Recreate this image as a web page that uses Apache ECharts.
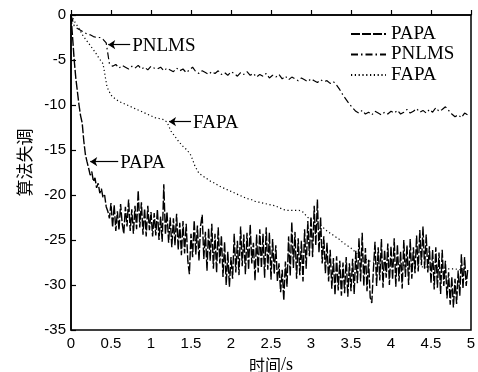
<!DOCTYPE html>
<html>
<head>
<meta charset="utf-8">
<script src="https://cdn.jsdelivr.net/npm/echarts@6/dist/echarts.min.js"></script>
<style>
html,body{margin:0;padding:0;background:#fff;}
#main{width:478px;height:372px;}
</style>
</head>
<body>
<div id="main"></div>
<script>
// time step (s) of each series
var papaStep = 0.02;
var pnlmsStep = 0.04;
var fapaStep = 0.05;

var seriesNames = ['PAPA', 'PNLMS', 'FAPA'];
var xTicks = [0, 0.5, 1, 1.5, 2, 2.5, 3, 3.5, 4, 4.5, 5];
var yTicks = [0, -5, -10, -15, -20, -25, -30, -35];

var papa = [
  0, -2.5, -5, -7, -8.5, -10, -11.2, -12, -14, -15.5,
  -16.3, -17, -17.8, -17.4, -18.5, -18.1, -19.2, -18.7, -19.8, -19.3,
  -20.3, -20, -21.3, -21.8, -22.6, -20.9, -23.6, -21.1, -24, -21.8,
  -23.9, -21, -23.2, -24.3, -21.3, -23.5, -20.5, -24, -21.6, -24.3,
  -21.2, -23.8, -19.5, -23.6, -20.8, -24.4, -21.5, -24.6, -21.2, -23.9,
  -21.9, -24.6, -22, -24.5, -21.6, -25, -22.4, -25.2, -18.8, -24.4,
  -21.9, -25.3, -22.5, -25.8, -22.6, -25.6, -22.1, -26.1, -23.1, -26.7,
  -22.9, -26.5, -23.2, -27.3, -28.8, -24.3, -26.9, -22.8, -26.6, -23.4,
  -27.3, -23.4, -22.2, -27.1, -24.1, -28.4, -23.7, -27.3, -23.2, -28.2,
  -24.3, -28.6, -23.6, -27.6, -24.5, -29.1, -25.2, -30, -26.3, -30.2,
  -26.9, -29.3, -24.3, -28.6, -25.1, -28.9, -23.5, -27.9, -24.4, -28.8,
  -24.2, -28.3, -23.3, -27.6, -25.3, -29.5, -24.4, -28.6, -23.8, -28.1,
  -24.3, -29.2, -23.6, -28.3, -24.2, -29.4, -24.9, -28.8, -25.6, -29.6,
  -27.6, -30.8, -28.3, -31.7, -27.4, -30.2, -24.6, -29, -23, -28.1,
  -24.1, -29.3, -24.8, -28.9, -25.1, -29.6, -23.8, -28.2, -22.9, -26.8,
  -22.4, -26.9, -21.2, -25.6, -20.5, -26.4, -22.5, -27.6, -24.6, -28.7,
  -25.3, -29.6, -26.1, -30.4, -27, -31.1, -26.8, -30.6, -27.3, -31.2,
  -27.5, -30.9, -26.9, -31.3, -27.6, -30.7, -27.1, -31, -26.2, -29.8,
  -24.8, -29.6, -24.2, -30.1, -25.9, -30.7, -27.2, -31.4, -32, -28.3,
  -25.2, -30.1, -25.8, -29.5, -24.9, -30.3, -26.1, -29.2, -25.4, -30,
  -25.7, -29.4, -24.8, -30.2, -25.5, -29.6, -26.3, -30.4, -25, -29.1,
  -25.6, -30, -24.9, -29.3, -25.8, -28.7, -24.5, -28.5, -23.9, -27.8,
  -23.5, -28.2, -24.4, -28.6, -25.7, -29.8, -26.1, -30.5, -25.8, -30.3,
  -26.4, -31, -26.1, -30.1, -27.3, -31.5, -28.6, -32.2, -29.1, -32.5,
  -29.3, -32.1, -28.4, -31.2, -26.6, -30.4, -26.9, -30.1, -28.2
];

var pnlms = [
  0, -1.2, -1.5, -1.7, -1.9, -2.1, -2.2, -2.4, -2.5, -2.5,
  -2.7, -3.1, -5.4, -5.7, -5.5, -5.9, -5.6, -5.8, -6.0, -5.7,
  -5.9, -5.6, -6.0, -5.8, -6.1, -5.7, -5.9, -6.0, -5.8, -6.2,
  -5.9, -6.1, -6.3, -5.9, -6.2, -6.0, -6.4, -6.1, -5.8, -6.3,
  -6.5, -6.2, -6.4, -6.6, -6.3, -6.5, -6.2, -6.6, -6.4, -6.7,
  -6.3, -6.5, -6.8, -6.4, -6.6, -6.3, -6.7, -6.5, -6.9, -6.6,
  -6.8, -6.5, -7.0, -6.7, -6.9, -6.6, -7.1, -6.8, -7.2, -6.9,
  -7.1, -7.3, -7.0, -7.2, -7.4, -7.1, -7.3, -7.5, -7.2, -7.4,
  -7.3, -7.6, -7.4, -7.8, -8.3, -8.9, -9.4, -9.9, -10.3, -10.7,
  -10.9, -10.6, -11.0, -10.8, -11.1, -10.7, -10.9, -11.1, -10.8, -11.0,
  -10.7, -10.9, -10.6, -11.0, -10.8, -10.5, -10.9, -10.7, -10.4, -10.8,
  -10.6, -10.9, -10.5, -10.8, -10.3, -10.7, -10.5, -10.2, -10.6, -11.0,
  -11.3, -11.1, -11.4, -10.9, -11.1
];

var fapa = [
  0, -0.8, -1.5, -2.3, -2.9, -3.5, -4.1, -4.8, -5.4, -8.0,
  -8.9, -9.3, -9.6, -9.8, -10.0, -10.2, -10.4, -10.6, -10.8, -11.0,
  -11.2, -11.4, -11.5, -11.6, -11.9, -12.9, -13.5, -14.1, -14.6, -15.0,
  -15.6, -16.8, -17.6, -17.9, -18.2, -18.5, -18.7, -19.0, -19.2, -19.4,
  -19.6, -19.8, -20.0, -20.2, -20.4, -20.5, -20.7, -20.8, -20.9, -21.0,
  -21.1, -21.2, -21.4, -21.6, -21.7, -21.7, -21.7, -21.7, -21.9, -22.4,
  -22.8, -23.0, -23.3, -23.6, -24.0, -24.3, -24.6, -24.9, -25.3, -25.6,
  -25.9, -26.3, -26.7, -27.0, -27.2, -27.4, -27.5, -27.5, -27.6, -27.6,
  -27.7, -27.7, -27.8, -27.8, -27.8, -27.9, -27.9, -27.9, -28.0, -28.0,
  -28.0, -28.1, -28.1, -28.1, -28.2, -28.2, -28.2, -28.3, -28.3, -28.3
];

// annotation labels: [text, arrow tail x, arrow tip x, y]
var notes = [
  ['PNLMS', 0.74, 0.465, -3.3],
  ['FAPA', 1.5, 1.225, -11.85],
  ['PAPA', 0.59, 0.24, -16.3]
];

function pairs(vals, step) {
  return vals.map(function (v, i) { return [+(i * step).toFixed(3), v]; });
}

var serif = '"Liberation Serif", "Times New Roman", serif';
var sans = '"Liberation Sans", Arial, sans-serif';
var cjk = '"Noto Sans CJK SC", sans-serif';

function noteMarks(n) {
  return {
    markLine: {
      silent: true,
      symbol: ['none', 'arrow'],
      symbolSize: 7,
      label: { show: false },
      lineStyle: { color: '#000', type: 'solid', width: 1.2 },
      data: [[{ coord: [n[1], n[3]] }, { coord: [n[2], n[3]] }]]
    },
    markPoint: {
      silent: true,
      symbol: 'circle',
      symbolSize: 0,
      itemStyle: { color: 'rgba(0,0,0,0)' },
      label: {
        show: true, position: 'right', distance: 2,
        formatter: n[0], color: '#000', fontFamily: serif, fontSize: 19
      },
      data: [{ coord: [n[1], n[3] - 0.2] }]
    }
  };
}

var styles = {
  PAPA: { type: [9, 2], width: 1.4 },
  PNLMS: { type: [7, 3, 1.5, 3], width: 1.2 },
  FAPA: { type: [1.2, 2.6], width: 1.2 }
};
var datas = {
  PAPA: pairs(papa, papaStep),
  PNLMS: pairs(pnlms, pnlmsStep),
  FAPA: pairs(fapa, fapaStep)
};

var series = seriesNames.map(function (name) {
  var s = {
    name: name,
    type: 'line',
    data: datas[name],
    symbol: 'none',
    showSymbol: false,
    lineStyle: { color: '#000', type: styles[name].type, width: styles[name].width },
    itemStyle: { color: '#000' },
    z: name === 'FAPA' ? 3 : 2
  };
  var n = notes.filter(function (x) { return x[0] === name; })[0];
  if (n) {
    var m = noteMarks(n);
    s.markLine = m.markLine;
    s.markPoint = m.markPoint;
  }
  return s;
});

var chart = echarts.init(document.getElementById('main'), null, { renderer: 'canvas' });
chart.setOption({
  animation: false,
  backgroundColor: '#fff',
  grid: {
    left: 71, right: 7, top: 15, bottom: 42,
    outerBoundsMode: 'none',
    outerBoundsContain: 'axisLabel',
    show: true, borderColor: '#000', borderWidth: 1.5, backgroundColor: 'transparent'
  },
  legend: {
    data: seriesNames,
    orient: 'vertical',
    left: 350, top: 24, padding: 0,
    itemWidth: 35, itemHeight: 10, itemGap: 0.5,
    itemStyle: { opacity: 0 },
    textStyle: { fontFamily: serif, fontSize: 19, color: '#000', lineHeight: 20 }
  },
  xAxis: {
    type: 'value',
    min: xTicks[0], max: xTicks[xTicks.length - 1], interval: 0.5,
    name: '{a|时间}{b|/s}',
    nameLocation: 'middle', nameGap: 27,
    nameTextStyle: {
      color: '#000',
      rich: {
        a: { fontFamily: cjk, fontSize: 16, color: '#000', lineHeight: 14 },
        b: { fontFamily: serif, fontSize: 18, color: '#000', lineHeight: 14 }
      }
    },
    axisLine: { lineStyle: { color: '#000', width: 1.5 } },
    axisTick: { inside: true, length: 5, lineStyle: { color: '#000', width: 1.2 } },
    axisLabel: { fontFamily: sans, fontSize: 15, color: '#000', margin: 6 },
    splitLine: { show: false }
  },
  yAxis: {
    type: 'value',
    min: yTicks[yTicks.length - 1], max: yTicks[0], interval: 5,
    name: '算法失调',
    nameLocation: 'middle', nameGap: 33,
    nameTextStyle: { fontFamily: cjk, fontSize: 17, color: '#000', padding: [0, 0, 0, 20] },
    axisLine: { lineStyle: { color: '#000', width: 1.5 } },
    axisTick: { inside: true, length: 5, lineStyle: { color: '#000', width: 1.2 } },
    axisLabel: { fontFamily: sans, fontSize: 15, color: '#000', margin: 5 },
    splitLine: { show: false }
  },
  series: series
});
</script>
</body>
</html>
